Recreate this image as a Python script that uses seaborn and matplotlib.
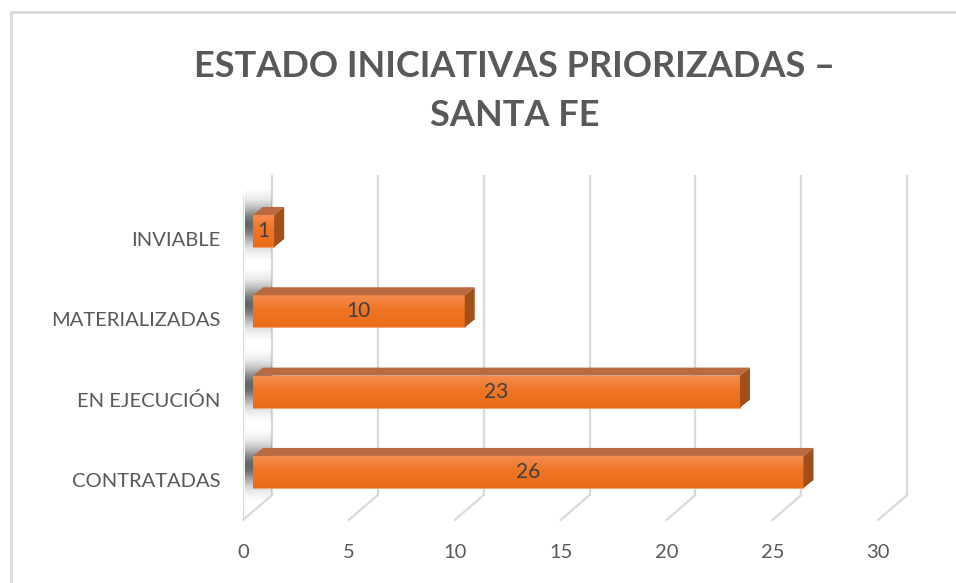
import matplotlib
matplotlib.use("Agg")
import matplotlib.pyplot as plt
import matplotlib.transforms as mtransforms
from matplotlib.colors import LinearSegmentedColormap
from matplotlib.patches import Polygon
from matplotlib.lines import Line2D
import seaborn as sns
import numpy as np
import pandas as pd

# datos del gráfico
categorias = ["INVIABLE", "MATERIALIZADAS", "EN EJECUCIÓN", "CONTRATADAS"]
valores = [1, 10, 23, 26]
ticks_x = [0, 5, 10, 15, 20, 25, 30]
titulo = "ESTADO INICIATIVAS PRIORIZADAS –\nSANTA FE"

df = pd.DataFrame({"estado": categorias, "cantidad": valores})

sns.set_style("white")
plt.rcParams["font.family"] = ["Lato", "DejaVu Sans"]

W, H, DPI = 956, 583, 100
fig = plt.figure(figsize=(W / DPI, H / DPI), dpi=DPI)


def px(x0, y0, x1, y1):
    # pixeles (desde arriba) -> [left, bottom, width, height] de figura
    return [x0 / W, 1 - y1 / H, (x1 - x0) / W, (y1 - y0) / H]


ax = fig.add_axes(px(243, 175, 910, 520))
ax.set_facecolor("none")

sns.barplot(data=df, x="cantidad", y="estado", orient="h", width=0.4,
            color="#F07F32", ax=ax, zorder=3)

unit = 21.17
xlim = (-10 / unit, 31.03)
ylim = (3 + 48 / 80.33, -(231 - 175) / 80.33)
ax.set_xlim(*xlim)
ax.set_ylim(*ylim)
for s in ax.spines.values():
    s.set_visible(False)

off = lambda dx, dy: mtransforms.ScaledTranslation(dx / DPI, dy / DPI, fig.dpi_scale_trans)
grid_c = "#D9D9D9"

# rejilla del plano posterior y diagonales del piso
btrans = ax.get_xaxis_transform()
back_bottom = 25 / 345
for v in ticks_x:
    ax.add_line(Line2D([v, v], [back_bottom, 1], transform=btrans + off(19, 0),
                       color=grid_c, lw=1.6, zorder=1))
    p0 = (btrans + off(19, 0)).transform((v, back_bottom))
    p1 = (btrans + off(-10, 0)).transform((v, 0))
    fig.add_artist(Line2D([p0[0] / W, p1[0] / W], [p0[1] / H, p1[1] / H],
                          color=grid_c, lw=1.6, zorder=1))
# borde frontal de la pared izquierda
ax.add_line(Line2D([0, 0], [0, 1 - 22 / 345], transform=btrans + off(-10, 0),
                   color=grid_c, lw=1.6, zorder=1))

# sombras sobre la pared
yy = np.linspace(-1, 1, 60)
sh = np.exp(-(yy ** 2) / 0.3)
cont = ax.containers[0]
for p in cont.patches:
    y0, h = p.get_y(), p.get_height()
    img = np.zeros((60, 2, 4))
    img[..., :3] = 0.25
    img[..., 3] = (sh * 0.8)[:, None]
    ax.imshow(img, extent=(-8 / unit, 18 / unit, y0 + h + 0.15, y0 - 0.3),
              aspect="auto", zorder=2, interpolation="bilinear")

# caras 3D y degradado
cmap = LinearSegmentedColormap.from_list("nar", ["#F68D50", "#EE7424", "#E96C1A"])
grad = np.linspace(0, 1, 50)[:, None]
dx, dy = 10, 8
inv = ax.transData.inverted()
for p in cont.patches:
    x0, y0, w, h = p.get_x(), p.get_y(), p.get_width(), p.get_height()
    x1, y1 = x0 + w, y0 + h
    im = ax.imshow(grad, extent=(x0, x1, y1, y0), cmap=cmap, aspect="auto",
                   zorder=3, interpolation="bilinear")
    im.set_clip_path(p)
    p.set_edgecolor("#F5A06A")
    p.set_linewidth(0.6)
    d = ax.transData.transform([(x0, y0), (x1, y0), (x1, y1)])
    top = inv.transform([d[0], d[1], d[1] + (dx, dy), d[0] + (dx, dy)])
    side = inv.transform([d[1], d[2], d[2] + (dx, dy), d[1] + (dx, dy)])
    ax.add_patch(Polygon(top, closed=True, fc="#B96A40", ec="none", zorder=4))
    ax.add_patch(Polygon(side, closed=True, fc="#A34F1B", ec="none", zorder=4))

ax.bar_label(cont, labels=[str(v) for v in valores], label_type="center",
             fontsize=15, color="#404040", zorder=6)
for t in ax.texts:
    t.set_zorder(6)

ax.set_xlim(*xlim)
ax.set_ylim(*ylim)

ax.set_xticks(ticks_x)
ax.set_xticklabels([str(v) for v in ticks_x])
ax.tick_params(axis="x", length=0, pad=17, labelsize=14.5, labelcolor="#595959")
ax.tick_params(axis="y", length=0, pad=16, labelsize=14.5, labelcolor="#595959")
for lab in ax.get_xticklabels():
    lab.set_transform(lab.get_transform() + off(-10, 0))
for lab in ax.get_yticklabels():
    lab.set_transform(lab.get_transform() + off(0, -8))
ax.set_xlabel("")
ax.set_ylabel("")
ax.grid(False)

fig.text(515 / W, 1 - 91 / H, titulo, ha="center", va="center", fontsize=26,
         fontweight="bold", color="#595959", linespacing=1.6)

# marco del área del gráfico
fig.add_artist(Line2D([11 / W, 1], [1 - 12 / H] * 2, color="#D9D9D9", lw=2))
fig.add_artist(Line2D([11 / W] * 2, [0, 1 - 12 / H], color="#D9D9D9", lw=2))

fig.savefig("out.png", dpi=DPI)
